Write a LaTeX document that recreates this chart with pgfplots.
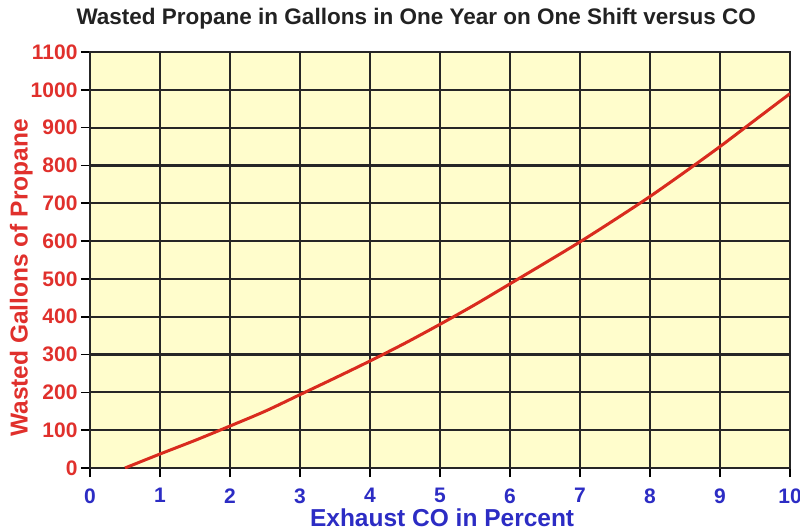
\documentclass[border=0pt]{standalone}
\usepackage{fontspec}
\setmainfont{Liberation Sans}
\usepackage{pgfplots}
\pgfplotsset{compat=1.18}
\definecolor{bgyel}{HTML}{FFFDCC}
\definecolor{curvered}{HTML}{D92B1E}
\definecolor{labred}{HTML}{E0302C}
\definecolor{labblue}{HTML}{2C2CC4}
\definecolor{titlegray}{HTML}{222222}
\begin{document}
\begin{tikzpicture}
\path[use as bounding box] (-90pt,-62pt) rectangle (710pt,468pt);
\begin{axis}[
  at={(0pt,0pt)}, anchor=south west,
  scale only axis, width=700pt, height=416pt,
  xmin=0, xmax=10, ymin=0, ymax=1100,
  xtick={0,1,...,10}, ytick={0,100,...,1100},
  xtick pos=bottom, ytick pos=left,
  tick align=outside, major tick length=9pt,
  tick style={black, line width=1.6pt},
  grid=major,
  major grid style={black!85, line width=2.2pt},
  axis line style={black!85, line width=2.2pt},
  axis background/.style={fill=bgyel},
  /pgf/number format/assume math mode=true,
  /pgf/number format/set thousands separator={},
  xticklabel style={font=\fontsize{21}{24}\selectfont\bfseries, text=labblue, yshift=-8pt},
  yticklabel style={font=\fontsize{21}{24}\selectfont\bfseries, text=labred, xshift=0pt},
  title={Wasted Propane in Gallons in One Year on One Shift versus CO},
  title style={font=\fontsize{22.5}{26}\selectfont\bfseries, text=titlegray,
    at={(axis description cs:0.466,1)}, anchor=center, yshift=27pt},
  xlabel={Exhaust CO in Percent},
  xlabel style={font=\fontsize{24.5}{28}\selectfont\bfseries, text=labblue,
    at={(axis description cs:0.503,0)}, anchor=center, yshift=-50pt},
  ylabel={Wasted Gallons of Propane},
  ylabel style={font=\fontsize{24.5}{28}\selectfont\bfseries, text=labred,
    at={(axis description cs:-0.098,0.457)}, anchor=center, rotate=0},
]
\addplot[curvered, line width=3pt, smooth, no markers] coordinates {
(0.5,0) (1,37) (1.5,73) (2,111) (2.5,150) (3,194) (3.5,238) (4,283)
(4.5,330) (5,380) (5.5,432) (6,487) (6.5,542) (7,598) (7.5,657)
(8,718) (8.5,783) (9,850) (9.5,920) (10,990)
};
\end{axis}
\end{tikzpicture}
\end{document}
